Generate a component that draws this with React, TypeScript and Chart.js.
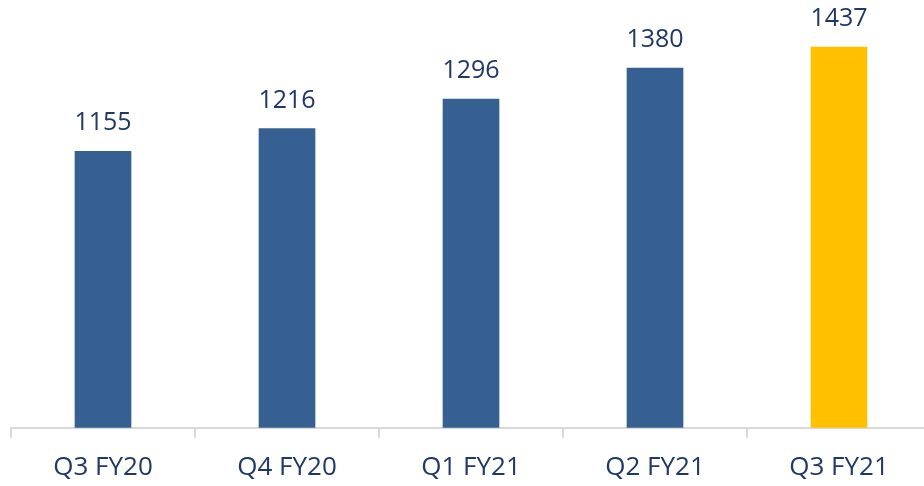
import React, { useEffect, useRef } from "react";
import { Chart, registerables } from "chart.js";

Chart.register(...registerables);

const categories = ["Q3 FY20", "Q4 FY20", "Q1 FY21", "Q2 FY21", "Q3 FY21"];
const values = [1155, 1216, 1296, 1380, 1437];
const barColors = ["#376092", "#376092", "#376092", "#376092", "#FFC000"];

const TEXT_COLOR = "#1F3864";
const FONT = "'Open Sans', 'Noto Sans', sans-serif";

const valueLabelPlugin = {
  id: "valueLabels",
  afterDatasetsDraw(chart: any) {
    const { ctx } = chart;
    const meta = chart.getDatasetMeta(0);
    ctx.save();
    ctx.font = `25px ${FONT}`;
    ctx.fillStyle = TEXT_COLOR;
    ctx.textAlign = "center";
    ctx.textBaseline = "middle";
    meta.data.forEach((bar: any, i: number) => {
      ctx.fillText(String(values[i]), bar.x, bar.y - 28);
    });
    ctx.restore();
  },
};

export default function App() {
  const canvasRef = useRef<HTMLCanvasElement | null>(null);

  useEffect(() => {
    if (!canvasRef.current) return;
    const chart = new Chart(canvasRef.current, {
      type: "bar",
      data: {
        labels: categories,
        datasets: [
          {
            data: values,
            backgroundColor: barColors,
            barThickness: 56,
          },
        ],
      },
      options: {
        animation: false,
        responsive: false,
        maintainAspectRatio: false,
        layout: { padding: { left: 11, right: 9, top: 0, bottom: 0 } },
        plugins: {
          legend: { display: false },
          tooltip: { enabled: false },
        },
        scales: {
          x: {
            offset: true,
            grid: {
              offset: true,
              drawOnChartArea: false,
              drawTicks: true,
              tickLength: 10,
              color: "#D9D9D9",
              lineWidth: 2,
            },
            border: { display: true, color: "#D9D9D9", width: 2 },
            ticks: {
              color: TEXT_COLOR,
              font: { family: FONT, size: 26 },
              padding: 14.5,
              maxRotation: 0,
            },
          },
          y: {
            display: false,
            min: 407,
            max: 1564,
          },
        },
      },
      plugins: [valueLabelPlugin],
    });
    return () => chart.destroy();
  }, []);

  return (
    <div
      style={{
        position: "fixed",
        left: 0,
        top: 0,
        width: 924,
        height: 486,
        overflow: "hidden",
        background: "#fff",
      }}
    >
      <canvas ref={canvasRef} width={940} height={498} style={{ display: "block" }} />
    </div>
  );
}
